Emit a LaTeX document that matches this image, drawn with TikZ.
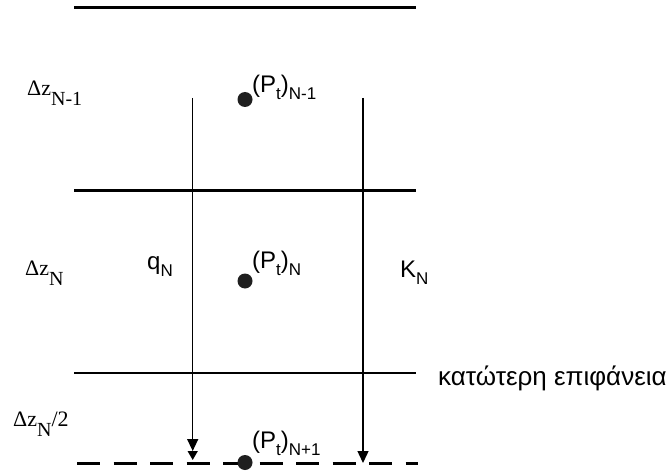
\documentclass[tikz,border=0pt]{standalone}
\usepackage{fontspec}
\setmainfont{Liberation Sans}
\newfontfamily\serifA{Liberation Serif}
\usetikzlibrary{arrows.meta}
\newcommand{\sbs}[1]{\raisebox{-7pt}{\fontsize{17}{17}\selectfont #1}}
\newcommand{\ssb}[1]{\raisebox{-10pt}{\fontsize{20}{20}\selectfont #1}}
\begin{document}
\begin{tikzpicture}[x=1pt,y=-1pt,
  level/.style={line width=2.8pt},
  base/.style={line width=3pt, dash pattern=on 23pt off 13.5pt},
  flux/.style={line width=1.4pt, -{Triangle[length=12pt,width=11pt]}},
  fluxb/.style={line width=1.4pt, -{Triangle[length=9pt,width=10pt]}},
  dot/.style={circle, fill=black!88, inner sep=0pt, minimum size=15pt},
  lab/.style={inner sep=0pt, anchor=base west, font=\fontsize{24}{28}\selectfont},
  dzlab/.style={inner sep=0pt, anchor=base west, font=\serifA\fontsize{22}{26}\selectfont}]
\useasboundingbox (0,0) rectangle (671,473);

% levels
\coordinate (a1) at (74,7.7);   \coordinate (a2) at (416,7.7);
\coordinate (b1) at (74,190.5); \coordinate (b2) at (416,190.5);
\coordinate (c1) at (74,373);   \coordinate (c2) at (416,373);
\coordinate (d1) at (77,463);   \coordinate (d2) at (418,463);
\draw[level] (a1) -- (a2);
\draw[level] (b1) -- (b2);
\draw[level] (c1) -- (c2);
\draw[base] (d1) -- (d2);

% fluxes
\coordinate (qtop) at (192.7,98);
\coordinate (qmid) at (192.7,451);
\coordinate (qbot) at (192.7,460);
\coordinate (ktop) at (363,98);
\coordinate (kbot) at (363,463);
\draw[flux] (qtop) -- (qmid);
\draw[fluxb] (qmid) -- (qbot);
\draw[flux] (ktop) -- (kbot);

% points
\node[dot] (n1) at (245,99.5) {};
\node[dot] (n2) at (245,281) {};
\node[dot] (n3) at (245,462.5) {};
\node[lab] (p1) at (252,93) {(P\sbs{t})\sbs{N-1}};
\node[lab] (p2) at (252,268) {(P\sbs{t})\sbs{N}};
\node[lab] (p3) at (252,448) {(P\sbs{t})\sbs{N+1}};

% labels
\node[lab] (q) at (147,269) {q\sbs{N}};
\node[lab] (k) at (400,277) {K\sbs{N}};
\node[lab, font=\fontsize{26}{30}\selectfont] (surf) at (438,385) {κατώτερη επιφάνεια};
\node[dzlab] (dz1) at (27,96) {Δz\ssb{N-1}};
\node[dzlab] (dz2) at (25,275) {Δz\ssb{N}};
\node[dzlab] (dz3) at (13,426) {Δz\ssb{N}/2};
\end{tikzpicture}
\end{document}
